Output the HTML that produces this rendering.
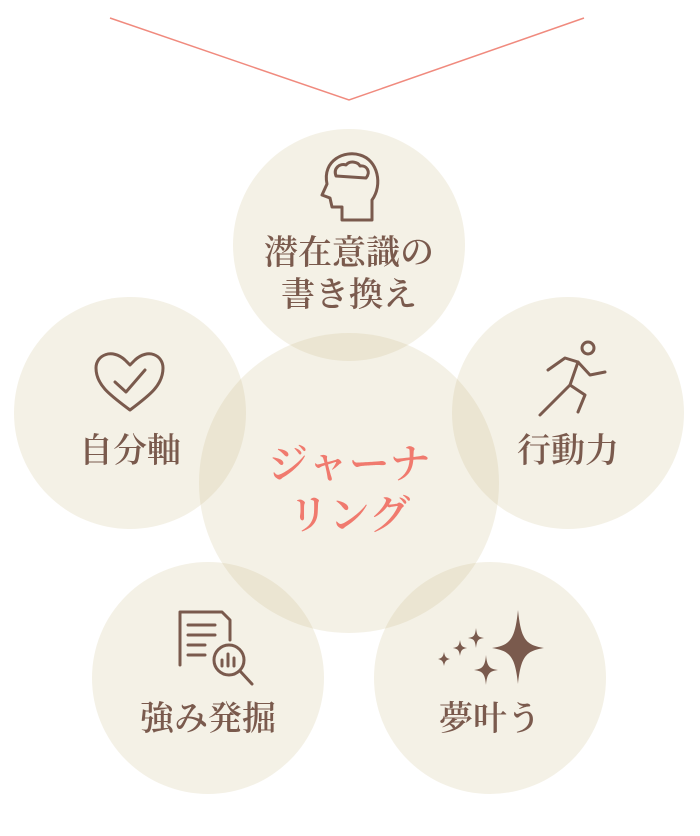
<!DOCTYPE html>
<html><head><meta charset="utf-8"><style>
body{margin:0;width:700px;height:836px;background:#fff;overflow:hidden}
svg{display:block}
text{font-family:"Liberation Serif","Noto Serif CJK JP",serif;font-weight:600}
</style></head><body>
<svg width="700" height="836" viewBox="0 0 700 836">
<polyline points="110,18 349,100 584,18" fill="none" stroke="#f08a7e" stroke-width="1.5"/>
<g fill="rgba(200,185,130,0.2)">
<circle cx="349" cy="245" r="116"/>
<circle cx="130" cy="413" r="116"/>
<circle cx="568" cy="413" r="116"/>
<circle cx="208" cy="678" r="116"/>
<circle cx="490" cy="678" r="116"/>
<circle cx="349" cy="483" r="150"/>
</g>
<g fill="#7a5a4d" font-size="34" text-anchor="middle">
<text x="349" y="264">潜在意識の</text>
<text x="349" y="306">書き換え</text>
<text x="130" y="462">自分軸</text>
<text x="568" y="462">行動力</text>
<text x="208" y="730">強み発掘</text>
<text x="490" y="730">夢叶う</text>
</g>
<g fill="#f07a6e" font-size="41" text-anchor="middle">
<text x="349" y="478">ジャーナ</text>
<text x="349" y="529">リング</text>
</g>
<g fill="none" stroke="#7a5a4d" stroke-width="3" stroke-linejoin="round" stroke-linecap="round">
<path d="M342,220 L342,207 L332,207 L330,198 L322,195 L327,184 C322,160 345,150 360,155 C378,160 383,185 372,200 L372,220 Z"/>
<path d="M336,176 C333,168 340,163 346,165 C350,160 358,162 360,166 C367,165 371,172 366,178 Z"/>
<path d="M130,410 C110,395 96,385 96,368 C96,355 112,348 125,360 L130,365 L135,360 C148,348 163,355 163,368 C163,385 150,395 130,410 Z"/>
<path d="M115,382 L126,392 L145,370"/>
<circle cx="588" cy="348" r="6"/>
<path d="M548,370 L565,358 L578,362 L590,375 L605,372"/>
<path d="M578,362 L570,385 L585,395 L578,412"/>
<path d="M570,385 L555,400 L540,415"/>
<path d="M180,665 L180,612 L222,612 L230,620 L230,640"/>
<path d="M188,625 L215,625 M188,635 L215,635 M188,645 L205,645 M188,655 L205,655"/>
<circle cx="229" cy="660" r="15"/>
<path d="M240,671 L252,684"/>
<path d="M222,666 L222,660 M228,666 L228,654 M234,666 L234,658"/>
</g>
<g fill="#7a5a4d">
<path d="M518,610 C521,640 526,645 544,648 C526,651 521,656 518,684 C515,656 510,651 492,648 C510,645 515,640 518,610 Z"/>
<path d="M486,655 C487,667 490,669 498,670 C490,671 487,673 486,685 C485,673 482,671 474,670 C482,669 485,667 486,655 Z"/>
<path d="M476,628 C477,636 478,637 484,638 C478,639 477,640 476,648 C475,640 474,639 468,638 C474,637 475,636 476,628 Z"/>
<path d="M460,640 C461,646 462,647 467,648 C462,649 461,650 460,656 C459,650 458,649 453,648 C458,647 459,646 460,640 Z"/>
<path d="M444,652 C445,657 446,658 450,659 C446,660 445,661 444,666 C443,661 442,660 438,659 C442,658 443,657 444,652 Z"/>
</g>
</svg>
</body></html>
